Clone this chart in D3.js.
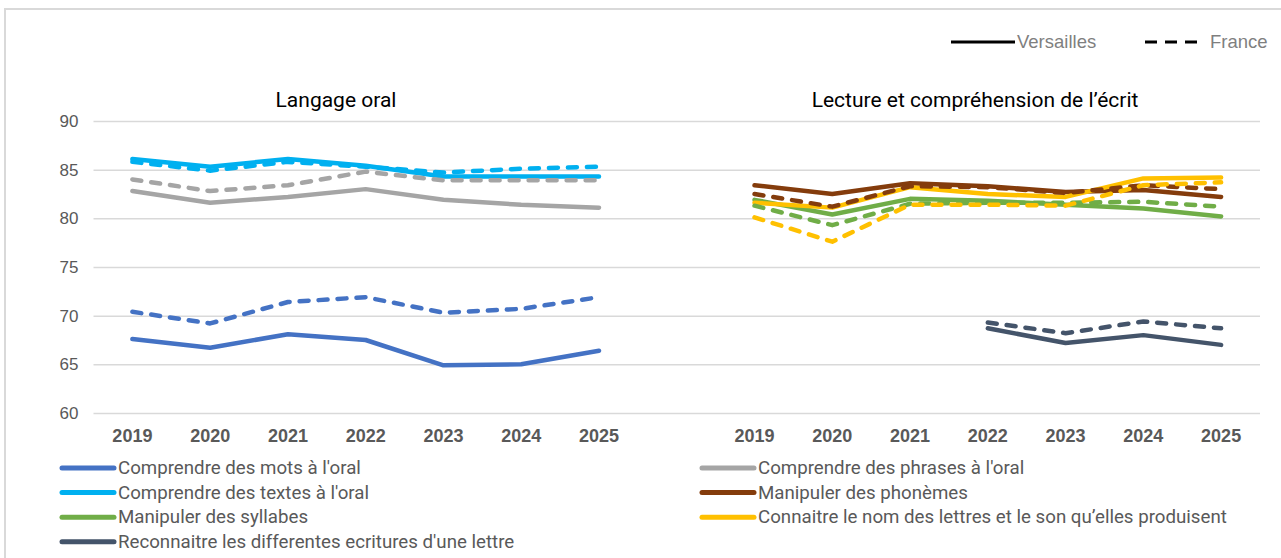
<!DOCTYPE html>
<html>
<head>
<meta charset="utf-8">
<script src="https://cdn.jsdelivr.net/npm/d3@7"></script>
<style>
  body { margin: 0; background: #fff; }
  svg { font-family: Roboto, "Noto Sans", sans-serif; }
</style>
</head>
<body>
<svg id="chart" width="1281" height="558"></svg>
<script>
// years on each panel
const years = ["2019", "2020", "2021", "2022", "2023", "2024", "2025"];
const yTicks = [60, 65, 70, 75, 80, 85, 90];

// Langage oral
const motsVersailles    = [67.6, 66.7, 68.1, 67.5, 64.9, 65.0, 66.4];
const motsFrance        = [70.4, 69.2, 71.4, 71.9, 70.3, 70.7, 71.9];
const phrasesVersailles = [82.8, 81.6, 82.2, 83.0, 81.9, 81.4, 81.1];
const phrasesFrance     = [84.0, 82.8, 83.4, 84.8, 83.9, 83.9, 83.9];
const textesVersailles  = [86.1, 85.3, 86.1, 85.4, 84.3, 84.3, 84.3];
const textesFrance      = [85.8, 84.9, 85.8, 85.3, 84.7, 85.1, 85.3];

// Lecture et compréhension de l'écrit
const phonemesVersailles   = [83.4, 82.5, 83.6, 83.3, 82.7, 82.9, 82.2];
const phonemesFrance       = [82.5, 81.2, 83.3, 83.2, 82.6, 83.4, 83.0];
const syllabesVersailles   = [81.9, 80.4, 82.0, 81.8, 81.4, 81.0, 80.2];
const syllabesFrance       = [81.3, 79.3, 81.5, 81.6, 81.6, 81.7, 81.2];
const lettresVersailles    = [81.6, 81.1, 83.2, 82.5, 82.2, 84.1, 84.2];
const lettresFrance        = [80.1, 77.6, 81.4, 81.4, 81.3, 83.4, 83.7];
const ecrituresVersailles  = [null, null, null, 68.7, 67.2, 68.0, 67.0];
const ecrituresFrance      = [null, null, null, 69.3, 68.2, 69.4, 68.7];

const series = [
  {name: "Comprendre des mots à l'oral", color: "#4472C4", panel: 0, v: motsVersailles, f: motsFrance},
  {name: "Comprendre des phrases à l'oral", color: "#A5A5A5", panel: 0, v: phrasesVersailles, f: phrasesFrance},
  {name: "Comprendre des textes à l'oral", color: "#00B0F0", panel: 0, v: textesVersailles, f: textesFrance},
  {name: "Manipuler des phonèmes", color: "#843C0C", panel: 1, v: phonemesVersailles, f: phonemesFrance},
  {name: "Manipuler des syllabes", color: "#70AD47", panel: 1, v: syllabesVersailles, f: syllabesFrance},
  {name: "Connaitre le nom des lettres et le son qu’elles produisent", color: "#FFC000", panel: 1, v: lettresVersailles, f: lettresFrance},
  {name: "Reconnaitre les differentes ecritures d'une lettre", color: "#44546A", panel: 1, v: ecrituresVersailles, f: ecrituresFrance}
];

const svg = d3.select("#chart");

// frame
svg.append("path")
  .attr("d", "M5,560 L5,9 L1290,9")
  .attr("fill", "none").attr("stroke", "#d9d9d9").attr("stroke-width", 2);

const left = 93.5, right = 1260, step = (right - left) / 15;
const xs = [
  d3.scaleBand().domain(years).range([left, left + 7 * step]),
  d3.scaleBand().domain(years).range([left + 8 * step, right])
];
const y = d3.scaleLinear().domain([60, 90]).range([413, 121]);

// gridlines + y labels
const yAxis = svg.append("g")
  .attr("transform", "translate(" + left + ",0)")
  .call(d3.axisLeft(y).tickValues(yTicks).tickSize(-(right - left)).tickPadding(15));
yAxis.select(".domain").remove();
yAxis.selectAll(".tick line").attr("stroke", "#d9d9d9").attr("stroke-width", 1.5);
yAxis.selectAll(".tick text").attr("fill", "#595959").style("font-size", "17px");

// x axes
xs.forEach(function(x) {
  const g = svg.append("g")
    .attr("transform", "translate(0,413)")
    .call(d3.axisBottom(x).tickSize(0).tickPadding(16));
  g.select(".domain").remove();
  g.selectAll(".tick text").attr("fill", "#595959")
    .style("font-size", "18px").style("font-weight", "bold");
});

// panel titles
svg.append("text").attr("x", 336).attr("y", 107).attr("text-anchor", "middle")
  .style("font-size", "21px").attr("fill", "#000").text("Langage oral");
svg.append("text").attr("x", 975).attr("y", 107).attr("text-anchor", "middle")
  .style("font-size", "21px").attr("fill", "#000").text("Lecture et compréhension de l’écrit");

function lineFor(x) {
  return d3.line()
    .defined(function(d) { return d != null; })
    .x(function(d, i) { return x(years[i]) + x.bandwidth() / 2; })
    .y(function(d) { return y(d); });
}

const plot = svg.append("g");
series.forEach(function(s) {
  plot.append("path")
    .attr("d", lineFor(xs[s.panel])(s.v))
    .attr("fill", "none").attr("stroke", s.color)
    .attr("stroke-width", 4.5).attr("stroke-linecap", "round").attr("stroke-linejoin", "round");
});
series.forEach(function(s) {
  plot.append("path")
    .attr("d", lineFor(xs[s.panel])(s.f))
    .attr("fill", "none").attr("stroke", s.color)
    .attr("stroke-width", 4.5).attr("stroke-linecap", "round").attr("stroke-linejoin", "round")
    .attr("stroke-dasharray", "9,10");
});

// top legend (Versailles / France)
const topLeg = svg.append("g").style("font-family", "'Liberation Sans', Arial, sans-serif");
topLeg.append("line").attr("x1", 951).attr("x2", 1015).attr("y1", 42).attr("y2", 42)
  .attr("stroke", "#000").attr("stroke-width", 3);
topLeg.append("text").attr("x", 1017).attr("y", 48).attr("fill", "#7f7f7f")
  .style("font-size", "18.5px").text("Versailles");
topLeg.append("line").attr("x1", 1145).attr("x2", 1197).attr("y1", 42).attr("y2", 42)
  .attr("stroke", "#000").attr("stroke-width", 3).attr("stroke-dasharray", "12,8");
topLeg.append("text").attr("x", 1210).attr("y", 48).attr("fill", "#7f7f7f")
  .style("font-size", "18.5px").text("France");

// bottom legend
const leg = svg.append("g");
series.forEach(function(s, i) {
  const cx = i % 2 === 0 ? 62 : 702;
  const cy = 468 + Math.floor(i / 2) * 24.6;
  leg.append("line").attr("x1", cx).attr("x2", cx + 52).attr("y1", cy).attr("y2", cy)
    .attr("stroke", s.color).attr("stroke-width", 5).attr("stroke-linecap", "round");
  leg.append("text").attr("x", cx + 56).attr("y", cy + 6).attr("fill", "#595959")
    .style("font-size", "18.7px").text(s.name);
});
</script>
</body>
</html>
